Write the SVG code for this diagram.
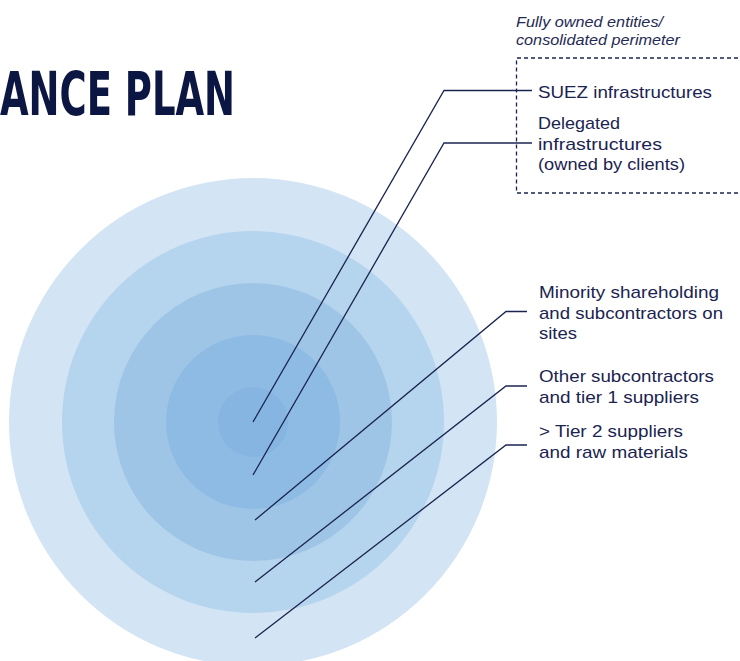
<svg xmlns="http://www.w3.org/2000/svg" width="740" height="661" viewBox="0 0 740 661">
  <style>
    .title { font-family: "DejaVu Sans Condensed", "DejaVu Sans", sans-serif; font-weight: bold; font-stretch: condensed; font-size: 61px; fill: #0c1642; }
    .note { font-family: "Liberation Sans", Arial, sans-serif; font-style: italic; font-size: 14px; fill: #1f2a55; }
    .label { font-family: "Liberation Sans", Arial, sans-serif; font-size: 17px; fill: #1b2450; }
    .ring { stroke: none; }
    .leader { fill: none; stroke: #1b2450; stroke-width: 1.3; }
    .perimeter { fill: none; stroke: #1b2450; stroke-width: 1.3; stroke-dasharray: 4 3; }
  </style>

  <!-- Title -->
  <text class="title" x="0" y="115" textLength="235" lengthAdjust="spacingAndGlyphs">ANCE PLAN</text>

  <!-- Concentric scope rings -->
  <g id="rings">
    <circle id="ring-tier2" class="ring" cx="253" cy="422" r="244" fill="#d3e4f4"/>
    <circle id="ring-tier1" class="ring" cx="253" cy="422" r="191" fill="#b5d4ed"/>
    <circle id="ring-minority" class="ring" cx="253" cy="422" r="139" fill="#9fc5e6"/>
    <circle id="ring-delegated" class="ring" cx="253" cy="422" r="87" fill="#8ebbe3"/>
    <circle id="ring-suez" class="ring" cx="253" cy="422" r="35" fill="#85b5e0"/>
  </g>

  <!-- Consolidated perimeter -->
  <g id="perimeter">
    <text class="note" x="516" y="27" textLength="147" lengthAdjust="spacingAndGlyphs">Fully owned entities/</text>
    <text class="note" x="516" y="45" textLength="164" lengthAdjust="spacingAndGlyphs">consolidated perimeter</text>
    <path class="perimeter" d="M745 58 H516.5 V193 H745"/>
  </g>

  <!-- Leader lines -->
  <g id="connectors">
    <polyline class="leader" points="253,422 444,90.5 532,90.5"/>
    <polyline class="leader" points="253,475 444,143 532,143"/>
    <polyline class="leader" points="255,520 506,311.5 527,311.5"/>
    <polyline class="leader" points="255,582 506,386 527,386"/>
    <polyline class="leader" points="255,638 506,445 527,445"/>
  </g>

  <!-- Labels -->
  <g id="label-suez">
    <text class="label" x="538" y="98" textLength="174" lengthAdjust="spacingAndGlyphs">SUEZ infrastructures</text>
  </g>
  <g id="label-delegated">
    <text class="label" x="538" y="129" textLength="82" lengthAdjust="spacingAndGlyphs">Delegated</text>
    <text class="label" x="538" y="150" textLength="124" lengthAdjust="spacingAndGlyphs">infrastructures</text>
    <text class="label" x="538" y="170" textLength="147" lengthAdjust="spacingAndGlyphs">(owned by clients)</text>
  </g>
  <g id="label-minority">
    <text class="label" x="539" y="298" textLength="180" lengthAdjust="spacingAndGlyphs">Minority shareholding</text>
    <text class="label" x="539" y="319" textLength="184" lengthAdjust="spacingAndGlyphs">and subcontractors on</text>
    <text class="label" x="539" y="339" textLength="38" lengthAdjust="spacingAndGlyphs">sites</text>
  </g>
  <g id="label-tier1">
    <text class="label" x="539" y="382" textLength="175" lengthAdjust="spacingAndGlyphs">Other subcontractors</text>
    <text class="label" x="539" y="403" textLength="160" lengthAdjust="spacingAndGlyphs">and tier 1 suppliers</text>
  </g>
  <g id="label-tier2">
    <text class="label" x="539" y="437" textLength="144" lengthAdjust="spacingAndGlyphs">&gt; Tier 2 suppliers</text>
    <text class="label" x="539" y="458" textLength="149" lengthAdjust="spacingAndGlyphs">and raw materials</text>
  </g>
</svg>
